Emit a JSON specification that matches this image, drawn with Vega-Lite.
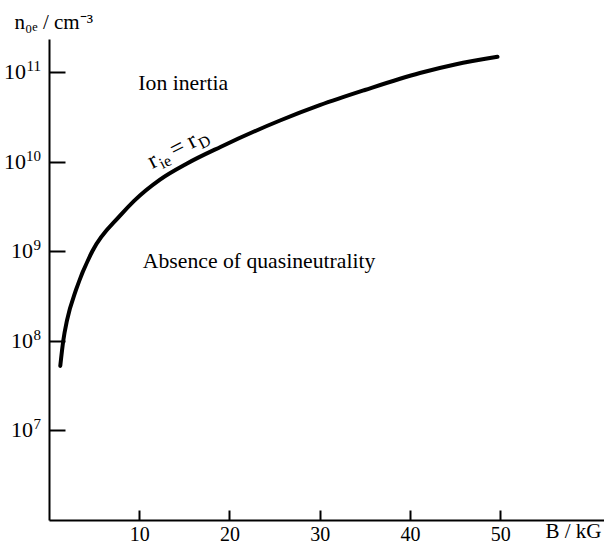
{
  "$schema": "https://vega.github.io/schema/vega-lite/v6.json",
  "width": 555,
  "height": 481,
  "autosize": {"type": "none"},
  "padding": {"left": 49, "top": 39, "right": 0, "bottom": 27},
  "background": "white",
  "datasets": {
    "curve": [
      {"B": 1.25, "n": 5.25e7},
      {"B": 1.58, "n": 1.0e8},
      {"B": 2.0, "n": 1.7e8},
      {"B": 3.0, "n": 3.72e8},
      {"B": 4.8, "n": 1.0e9},
      {"B": 7.9, "n": 2.51e9},
      {"B": 9.4, "n": 3.63e9},
      {"B": 12.3, "n": 6.31e9},
      {"B": 15.3, "n": 9.55e9},
      {"B": 19.0, "n": 1.46e10},
      {"B": 25.6, "n": 2.88e10},
      {"B": 30.0, "n": 4.27e10},
      {"B": 35.0, "n": 6.31e10},
      {"B": 41.1, "n": 9.77e10},
      {"B": 45.0, "n": 1.216e11},
      {"B": 49.7, "n": 1.48e11}
    ],
    "notes": [
      {"B": 9.9, "n": 7.6e10, "text": "Ion inertia"},
      {"B": 10.4, "n": 7.8e8, "text": "Absence of quasineutrality"}
    ],
    "rlabel": [
      {"B": 11.44, "n": 8.3e9}
    ],
    "ticks1": [
      {"B": 0, "n": 1e7, "exponent": "7"},
      {"B": 0, "n": 1e8, "exponent": "8"},
      {"B": 0, "n": 1e9, "exponent": "9"}
    ],
    "ticks2": [
      {"B": 0, "n": 1e10, "exponent": "10"},
      {"B": 0, "n": 1e11, "exponent": "11"}
    ]
  },
  "encoding": {
    "x": {
      "field": "B",
      "type": "quantitative",
      "scale": {"domain": [0, 61.5], "nice": false, "zero": false},
      "axis": {
        "title": "B / kG",
        "values": [10, 20, 30, 40, 50],
        "grid": false,
        "domainColor": "black",
        "domainWidth": 2,
        "tickColor": "black",
        "tickWidth": 2,
        "tickSize": -10,
        "labelPadding": 14,
        "labelFont": "Liberation Serif",
        "labelFontSize": 20,
        "labelColor": "black",
        "labelBaseline": "top",
        "titleFont": "Liberation Serif",
        "titleFontSize": 21,
        "titleFontWeight": "normal",
        "titleColor": "black",
        "titleX": 496,
        "titleY": 17,
        "titleAlign": "left",
        "titleBaseline": "alphabetic"
      }
    },
    "y": {
      "field": "n",
      "type": "quantitative",
      "scale": {"type": "log", "domain": [1e6, 2.34e11], "nice": false},
      "axis": {
        "title": "n₀ₑ / cm⁻³",
        "values": [1e7, 1e8, 1e9, 1e10, 1e11],
        "labels": false,
        "grid": false,
        "domainColor": "black",
        "domainWidth": 2,
        "tickColor": "black",
        "tickWidth": 2,
        "tickSize": -16,
        "titleFont": "Liberation Serif",
        "titleFontSize": 21,
        "titleFontWeight": "normal",
        "titleColor": "black",
        "titleAngle": 0,
        "titleX": -35,
        "titleY": -11,
        "titleAlign": "left",
        "titleBaseline": "alphabetic"
      }
    }
  },
  "layer": [
    {
      "data": {"name": "curve"},
      "mark": {"type": "line", "color": "black", "strokeWidth": 4, "interpolate": "monotone", "strokeCap": "round"}
    },
    {
      "data": {"name": "ticks1"},
      "mark": {"type": "text", "clip": false, "text": "10", "font": "Liberation Serif", "fontSize": 22, "align": "right", "baseline": "middle", "dx": -16, "color": "black"}
    },
    {
      "data": {"name": "ticks2"},
      "mark": {"type": "text", "clip": false, "text": "10", "font": "Liberation Serif", "fontSize": 22, "align": "right", "baseline": "middle", "dx": -23, "color": "black"}
    },
    {
      "data": {"name": "ticks1"},
      "mark": {"type": "text", "clip": false, "font": "Liberation Serif", "fontSize": 15, "align": "right", "baseline": "alphabetic", "dx": -8, "dy": -1, "color": "black"},
      "encoding": {"text": {"field": "exponent", "type": "nominal"}}
    },
    {
      "data": {"name": "ticks2"},
      "mark": {"type": "text", "clip": false, "font": "Liberation Serif", "fontSize": 15, "align": "right", "baseline": "alphabetic", "dx": -8, "dy": -1, "color": "black"},
      "encoding": {"text": {"field": "exponent", "type": "nominal"}}
    },
    {
      "data": {"name": "notes"},
      "mark": {"type": "text", "font": "Liberation Serif", "fontSize": 21.7, "align": "left", "baseline": "middle", "color": "black"},
      "encoding": {"text": {"field": "text"}}
    },
    {
      "data": {"name": "rlabel"},
      "mark": {"type": "text", "text": "r", "font": "Liberation Serif", "fontSize": 24, "align": "left", "baseline": "alphabetic", "angle": 333, "dx": 0, "dy": 0, "color": "black"}
    },
    {
      "data": {"name": "rlabel"},
      "mark": {"type": "text", "text": "ie", "font": "Liberation Serif", "fontSize": 16, "align": "left", "baseline": "alphabetic", "angle": 333, "dx": 9, "dy": 5, "color": "black"}
    },
    {
      "data": {"name": "rlabel"},
      "mark": {"type": "text", "text": "=", "font": "Liberation Serif", "fontSize": 24, "align": "left", "baseline": "alphabetic", "angle": 333, "dx": 25, "dy": 0, "color": "black"}
    },
    {
      "data": {"name": "rlabel"},
      "mark": {"type": "text", "text": "r", "font": "Liberation Serif", "fontSize": 24, "align": "left", "baseline": "alphabetic", "angle": 333, "dx": 44, "dy": 0, "color": "black"}
    },
    {
      "data": {"name": "rlabel"},
      "mark": {"type": "text", "text": "D", "font": "Liberation Serif", "fontSize": 16, "align": "left", "baseline": "alphabetic", "angle": 333, "dx": 53, "dy": 5, "color": "black"}
    }
  ],
  "config": {
    "view": {"stroke": null}
  }
}
